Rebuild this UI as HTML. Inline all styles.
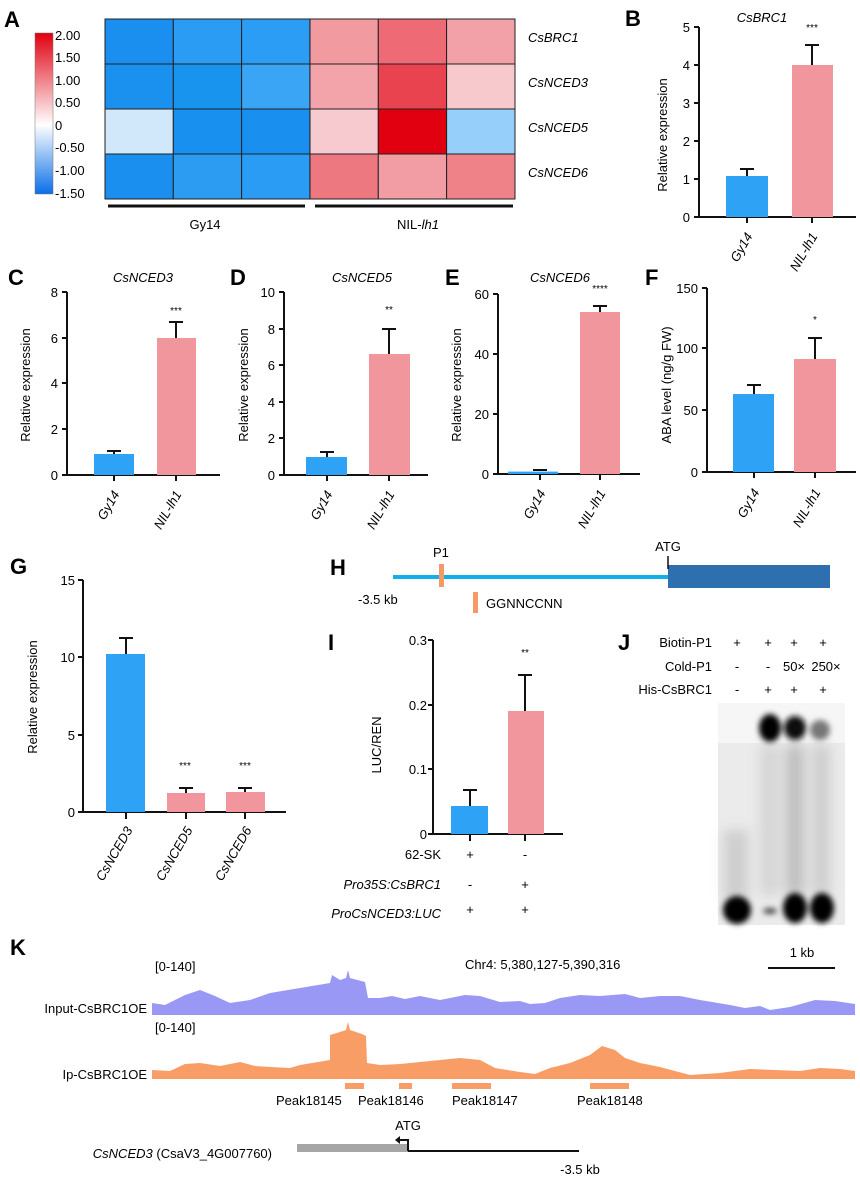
<!DOCTYPE html>
<html><head><meta charset="utf-8"><style>
html,body{margin:0;padding:0;background:#fff}
svg{display:block;font-family:"Liberation Sans",Arial,sans-serif}
.pl{font-weight:bold;font-size:22px}
.t{font-size:13px}
.it{font-style:italic}
</style></head><body>
<svg width="860" height="1179" viewBox="0 0 860 1179" xmlns="http://www.w3.org/2000/svg">
<defs>
<linearGradient id="cb" x1="0" y1="0" x2="0" y2="1">
<stop offset="0" stop-color="#e0000f"/><stop offset="0.57" stop-color="#ffffff"/><stop offset="1" stop-color="#0a6fe8"/>
</linearGradient>
<filter id="bl" x="-50%" y="-50%" width="200%" height="200%"><feGaussianBlur stdDeviation="3"/></filter>
<filter id="bl2" x="-50%" y="-50%" width="200%" height="200%"><feGaussianBlur stdDeviation="6"/></filter>
</defs>

<!-- A heatmap -->
<text class="pl" x="4" y="27">A</text>
<rect x="35" y="33" width="18" height="161" fill="url(#cb)" stroke="#777" stroke-width="0.5"/>
<g class="t" font-size="14">
<text x="55" y="40">2.00</text><text x="55" y="62">1.50</text><text x="55" y="85">1.00</text><text x="55" y="107">0.50</text>
<text x="55" y="130">0</text><text x="55" y="152">-0.50</text><text x="55" y="175">-1.00</text><text x="55" y="198">-1.50</text>
</g>
<g stroke="#222" stroke-width="1">
<rect x="105" y="19" width="68.3" height="45" fill="#1a8fef"/><rect x="173.3" y="19" width="68.3" height="45" fill="#2a9cf3"/><rect x="241.6" y="19" width="68.3" height="45" fill="#2b9df4"/>
<rect x="310" y="19" width="68.3" height="45" fill="#f19aa0"/><rect x="378.3" y="19" width="68.3" height="45" fill="#ee6b76"/><rect x="446.6" y="19" width="68.4" height="45" fill="#f3a1a8"/>
<rect x="105" y="64" width="68.3" height="45" fill="#1a90ef"/><rect x="173.3" y="64" width="68.3" height="45" fill="#1893ee"/><rect x="241.6" y="64" width="68.3" height="45" fill="#3aa5f5"/>
<rect x="310" y="64" width="68.3" height="45" fill="#f2a4aa"/><rect x="378.3" y="64" width="68.3" height="45" fill="#e8434f"/><rect x="446.6" y="64" width="68.4" height="45" fill="#f7c9cc"/>
<rect x="105" y="109" width="68.3" height="45" fill="#d0e8fa"/><rect x="173.3" y="109" width="68.3" height="45" fill="#1890ef"/><rect x="241.6" y="109" width="68.3" height="45" fill="#1990ef"/>
<rect x="310" y="109" width="68.3" height="45" fill="#f7cacf"/><rect x="378.3" y="109" width="68.3" height="45" fill="#e0000f"/><rect x="446.6" y="109" width="68.4" height="45" fill="#95cffa"/>
<rect x="105" y="154" width="68.3" height="45" fill="#1a8fef"/><rect x="173.3" y="154" width="68.3" height="45" fill="#2c9cf3"/><rect x="241.6" y="154" width="68.3" height="45" fill="#2a9cf4"/>
<rect x="310" y="154" width="68.3" height="45" fill="#ee7880"/><rect x="378.3" y="154" width="68.3" height="45" fill="#f29ca3"/><rect x="446.6" y="154" width="68.4" height="45" fill="#ef8189"/>
</g>
<g class="t it" font-size="15">
<text x="528" y="42">CsBRC1</text><text x="528" y="87">CsNCED3</text><text x="528" y="132">CsNCED5</text><text x="528" y="177">CsNCED6</text>
</g>
<line x1="108" y1="206" x2="305" y2="206" stroke="#111" stroke-width="3"/>
<line x1="315" y1="206" x2="513" y2="206" stroke="#111" stroke-width="3"/>
<text class="t" font-size="14" x="205" y="229" text-anchor="middle">Gy14</text>
<text class="t" font-size="14" x="418" y="229" text-anchor="middle">NIL-<tspan font-style="italic">lh1</tspan></text>

<!-- B -->
<text class="pl" x="625" y="26">B</text>
<text class="t it" font-size="14" x="762" y="22" text-anchor="middle">CsBRC1</text>
<text x="812" y="31" font-size="10" text-anchor="middle">***</text>
<g stroke="#111" stroke-width="2" fill="none">
<path d="M699 27V217H856"/>
<path d="M699 27h-5M699 65h-5M699 103h-5M699 141h-5M699 179h-5M699 217h-5M747 217v6M812 217v6"/>
</g>
<rect x="726" y="176" width="42" height="41" fill="#2ea2f5"/>
<rect x="792" y="65" width="41" height="152" fill="#f0969c"/>
<path d="M747 176v-7M740 169h14M812 65v-20M805 45h14" stroke="#111" stroke-width="2"/>
<g class="t" font-size="14" text-anchor="end">
<text x="690" y="32">5</text><text x="690" y="70">4</text><text x="690" y="108">3</text><text x="690" y="146">2</text><text x="690" y="184">1</text><text x="690" y="222">0</text>
</g>
<text class="t" font-size="15" transform="translate(667,135) rotate(-90)" text-anchor="middle">Relative expression</text>
<text class="t it" font-size="14" transform="translate(753,236) rotate(-60)" text-anchor="end">Gy14</text>
<text class="t it" font-size="14" transform="translate(818,236) rotate(-60)" text-anchor="end">NIL-lh1</text>

<!-- C -->
<text class="pl" x="8" y="285">C</text>
<text class="t it" font-size="14" x="143" y="282" text-anchor="middle">CsNCED3</text>
<text x="176" y="314" font-size="10" text-anchor="middle">***</text>
<g stroke="#111" stroke-width="2" fill="none"><path d="M67 292V475H220"/>
<path d="M67 292h-5M67 338h-5M67 383h-5M67 429h-5M67 475h-5M114 475v6M176 475v6"/></g>
<rect x="94" y="454" width="40" height="21" fill="#2ea2f5"/>
<rect x="157" y="338" width="39" height="137" fill="#f0969c"/>
<path d="M114 454v-3M107 451h14M176 338v-16M169 322h14" stroke="#111" stroke-width="2"/>
<g class="t" font-size="14" text-anchor="end"><text x="58" y="297">8</text><text x="58" y="343">6</text><text x="58" y="388">4</text><text x="58" y="434">2</text><text x="58" y="480">0</text></g>
<text class="t" font-size="15" transform="translate(30,385) rotate(-90)" text-anchor="middle">Relative expression</text>
<text class="t it" font-size="14" transform="translate(120,494) rotate(-60)" text-anchor="end">Gy14</text>
<text class="t it" font-size="14" transform="translate(182,494) rotate(-60)" text-anchor="end">NIL-lh1</text>

<!-- D -->
<text class="pl" x="230" y="285">D</text>
<text class="t it" font-size="14" x="362" y="282" text-anchor="middle">CsNCED5</text>
<text x="389" y="313" font-size="10" text-anchor="middle">**</text>
<g stroke="#111" stroke-width="2" fill="none"><path d="M284 292V475H428"/>
<path d="M284 292h-5M284 329h-5M284 365h-5M284 402h-5M284 438h-5M284 475h-5M327 475v6M389 475v6"/></g>
<rect x="306" y="457" width="41" height="18" fill="#2ea2f5"/>
<rect x="369" y="354" width="41" height="121" fill="#f0969c"/>
<path d="M327 457v-5M320 452h14M389 354v-25M382 329h14" stroke="#111" stroke-width="2"/>
<g class="t" font-size="14" text-anchor="end"><text x="275" y="297">10</text><text x="275" y="334">8</text><text x="275" y="370">6</text><text x="275" y="407">4</text><text x="275" y="443">2</text><text x="275" y="480">0</text></g>
<text class="t" font-size="15" transform="translate(248,385) rotate(-90)" text-anchor="middle">Relative expression</text>
<text class="t it" font-size="14" transform="translate(333,494) rotate(-60)" text-anchor="end">Gy14</text>
<text class="t it" font-size="14" transform="translate(395,494) rotate(-60)" text-anchor="end">NIL-lh1</text>

<!-- E -->
<text class="pl" x="445" y="285">E</text>
<text class="t it" font-size="14" x="560" y="282" text-anchor="middle">CsNCED6</text>
<text x="600" y="292" font-size="10" text-anchor="middle">****</text>
<g stroke="#111" stroke-width="2" fill="none"><path d="M498 294V474H640"/>
<path d="M498 294h-5M498 354h-5M498 414h-5M498 474h-5M540 474v6M600 474v6"/></g>
<rect x="508" y="471.6" width="50" height="2.4" fill="#2ea2f5"/>
<rect x="580" y="312" width="40" height="162" fill="#f0969c"/>
<path d="M533 470h14M600 312v-6M593 306h14" stroke="#111" stroke-width="2"/>
<g class="t" font-size="14" text-anchor="end"><text x="489" y="299">60</text><text x="489" y="359">40</text><text x="489" y="419">20</text><text x="489" y="479">0</text></g>
<text class="t" font-size="15" transform="translate(461,385) rotate(-90)" text-anchor="middle">Relative expression</text>
<text class="t it" font-size="14" transform="translate(546,493) rotate(-60)" text-anchor="end">Gy14</text>
<text class="t it" font-size="14" transform="translate(606,493) rotate(-60)" text-anchor="end">NIL-lh1</text>

<!-- F -->
<text class="pl" x="645" y="285">F</text>
<text x="815" y="323" font-size="10" text-anchor="middle">*</text>
<g stroke="#111" stroke-width="2" fill="none"><path d="M707 288V472H856"/>
<path d="M707 288h-5M707 348h-5M707 410h-5M707 472h-5M754 472v6M815 472v6"/></g>
<rect x="733" y="394" width="41" height="78" fill="#2ea2f5"/>
<rect x="794" y="359" width="42" height="113" fill="#f0969c"/>
<path d="M754 394v-9M747 385h14M815 359v-21M808 338h14" stroke="#111" stroke-width="2"/>
<g class="t" font-size="14" text-anchor="end"><text x="698" y="293">150</text><text x="698" y="353">100</text><text x="698" y="415">50</text><text x="698" y="477">0</text></g>
<text class="t" font-size="15" transform="translate(671,385) rotate(-90)" text-anchor="middle">ABA level (ng/g FW)</text>
<text class="t it" font-size="14" transform="translate(760,492) rotate(-60)" text-anchor="end">Gy14</text>
<text class="t it" font-size="14" transform="translate(821,492) rotate(-60)" text-anchor="end">NIL-lh1</text>

<!-- G -->
<text class="pl" x="10" y="574">G</text>
<g stroke="#111" stroke-width="2" fill="none"><path d="M83 580V812H286"/>
<path d="M83 580h-5M83 657h-5M83 735h-5M83 812h-5M126 812v7M186 812v7M245 812v7"/></g>
<rect x="106" y="654" width="39" height="158" fill="#2ea2f5"/>
<rect x="167" y="793" width="38" height="19" fill="#f0969c"/>
<rect x="226" y="792" width="39" height="20" fill="#f0969c"/>
<path d="M126 654v-16M119 638h14M186 793v-5M179 788h14M245 792v-4M238 788h14" stroke="#111" stroke-width="2"/>
<text x="185" y="769" font-size="10" text-anchor="middle">***</text>
<text x="245" y="769" font-size="10" text-anchor="middle">***</text>
<g class="t" font-size="14" text-anchor="end"><text x="75" y="585">15</text><text x="75" y="662">10</text><text x="75" y="740">5</text><text x="75" y="817">0</text></g>
<text class="t" font-size="15" transform="translate(37,697) rotate(-90)" text-anchor="middle">Relative expression</text>
<text class="t it" font-size="14" transform="translate(133,830) rotate(-60)" text-anchor="end">CsNCED3</text>
<text class="t it" font-size="14" transform="translate(193,830) rotate(-60)" text-anchor="end">CsNCED5</text>
<text class="t it" font-size="14" transform="translate(252,830) rotate(-60)" text-anchor="end">CsNCED6</text>

<!-- H -->
<text class="pl" x="330" y="575">H</text>
<line x1="393" y1="577" x2="668" y2="577" stroke="#12b0ea" stroke-width="4"/>
<rect x="668" y="565" width="162" height="23" fill="#2e6fb0"/>
<line x1="668" y1="556" x2="668" y2="569" stroke="#111" stroke-width="1.5"/>
<rect x="439" y="564" width="5" height="23" fill="#f59a66"/>
<text class="t" font-size="14" x="433" y="557">P1</text>
<text class="t" font-size="14" x="668" y="551" text-anchor="middle">ATG</text>
<text class="t" font-size="14" x="358" y="604">-3.5 kb</text>
<rect x="473" y="592" width="5" height="21" fill="#f59a66"/>
<text class="t" font-size="14" x="486" y="608">GGNNCCNN</text>

<!-- I -->
<text class="pl" x="328" y="650">I</text>
<g stroke="#111" stroke-width="2" fill="none"><path d="M433 640V834H563"/>
<path d="M433 640h-5M433 705h-5M433 769h-5M433 834h-5M470 834v7M525 834v7"/></g>
<rect x="451" y="806" width="37" height="28" fill="#2ea2f5"/>
<rect x="508" y="711" width="36" height="123" fill="#f0969c"/>
<path d="M470 806v-16M463 790h14M525 711v-36M518 675h14" stroke="#111" stroke-width="2"/>
<text x="525" y="656" font-size="10" text-anchor="middle">**</text>
<g class="t" font-size="14" text-anchor="end"><text x="427" y="645">0.3</text><text x="427" y="710">0.2</text><text x="427" y="774">0.1</text><text x="427" y="839">0</text></g>
<text class="t" font-size="15" transform="translate(381,745) rotate(-90)" text-anchor="middle">LUC/REN</text>
<g class="t" font-size="14">
<text x="441" y="859" text-anchor="end">62-SK</text><text x="470" y="859" text-anchor="middle">+</text><text x="525" y="859" text-anchor="middle">-</text>
<text x="441" y="889" text-anchor="end" font-style="italic">Pro35S:CsBRC1</text><text x="470" y="889" text-anchor="middle">-</text><text x="525" y="889" text-anchor="middle">+</text>
<text x="441" y="918" text-anchor="end" font-style="italic">ProCsNCED3:LUC</text><text x="470" y="914" text-anchor="middle">+</text><text x="525" y="914" text-anchor="middle">+</text>
</g>

<!-- J -->
<text class="pl" x="618" y="650">J</text>
<g class="t" font-size="14">
<text x="712" y="647" text-anchor="end">Biotin-P1</text>
<text x="712" y="671" text-anchor="end">Cold-P1</text>
<text x="712" y="694" text-anchor="end">His-CsBRC1</text>
<g text-anchor="middle">
<text x="737" y="647">+</text><text x="768" y="647">+</text><text x="794" y="647">+</text><text x="823" y="647">+</text>
<text x="737" y="671">-</text><text x="768" y="671">-</text><text x="794" y="671">50×</text><text x="826" y="671">250×</text>
<text x="737" y="694">-</text><text x="768" y="694">+</text><text x="794" y="694">+</text><text x="823" y="694">+</text>
</g></g>
<rect x="718" y="703" width="127" height="222" fill="#ebebeb"/>
<rect x="718" y="703" width="127" height="40" fill="#f6f6f6"/>
<g filter="url(#bl2)" opacity="0.45"><rect x="786" y="745" width="18" height="150" fill="#888"/><rect x="760" y="745" width="20" height="150" fill="#bbb"/><rect x="812" y="745" width="18" height="150" fill="#aaa"/><rect x="724" y="830" width="24" height="70" fill="#aaa"/></g>
<g filter="url(#bl)">
<ellipse cx="770" cy="728" rx="11" ry="14" fill="#000"/>
<ellipse cx="795" cy="728" rx="11" ry="12" fill="#111"/>
<ellipse cx="820" cy="730" rx="10" ry="10" fill="#777"/>
<ellipse cx="737" cy="910" rx="14" ry="14" fill="#000"/>
<ellipse cx="770" cy="911" rx="7" ry="3" fill="#444"/>
<ellipse cx="795" cy="908" rx="12" ry="15" fill="#000"/>
<ellipse cx="822" cy="908" rx="12" ry="15" fill="#000"/>
</g>

<!-- K -->
<text class="pl" x="10" y="955">K</text>
<text class="t" font-size="14" x="155" y="971">[0-140]</text>
<text class="t" font-size="14" x="465" y="969">Chr4: 5,380,127-5,390,316</text>
<text class="t" font-size="14" x="802" y="957" text-anchor="middle">1 kb</text>
<line x1="768" y1="968" x2="835" y2="968" stroke="#111" stroke-width="2"/>
<polygon fill="#9999f5" points="152,1003 165,1005 185,995 200,990 215,996 230,1003 250,1000 270,993 300,988 330,983 332,975 340,980 346,978 348,970 350,978 365,982 368,998 380,998 392,996 405,999 420,996 440,1000 465,995 480,996 500,1002 520,1001 530,1004 545,1003 560,998 580,995 600,996 625,994 640,998 660,996 680,996 700,1000 730,1005 745,1008 760,1006 770,1010 790,1007 815,1000 835,1001 855,1004 855,1015 152,1015"/>
<text class="t" font-size="14" x="147" y="1013" text-anchor="end">Input-CsBRC1OE</text>
<text class="t" font-size="14" x="155" y="1032">[0-140]</text>
<polygon fill="#f99d66" points="152,1070 170,1071 185,1064 200,1063 220,1066 240,1062 255,1066 270,1067 290,1068 300,1065 318,1062 330,1060 330,1035 340,1032 346,1030 348,1022 350,1030 362,1034 366,1036 367,1063 380,1065 400,1064 420,1062 440,1060 460,1058 480,1060 495,1068 520,1072 535,1074 550,1068 570,1063 590,1055 602,1046 615,1050 625,1058 640,1063 660,1067 690,1075 720,1073 750,1069 775,1070 800,1071 820,1068 840,1069 855,1071 855,1079 152,1079"/>
<text class="t" font-size="14" x="147" y="1079" text-anchor="end">Ip-CsBRC1OE</text>
<g fill="#f99d66"><rect x="345" y="1083" width="19" height="6"/><rect x="399" y="1083" width="13" height="6"/><rect x="452" y="1083" width="39" height="6"/><rect x="590" y="1083" width="39" height="6"/></g>
<g class="t" font-size="14"><text x="276" y="1105">Peak18145</text><text x="358" y="1105">Peak18146</text><text x="452" y="1105">Peak18147</text><text x="577" y="1105">Peak18148</text></g>
<text class="t" font-size="14" x="408" y="1130" text-anchor="middle">ATG</text>
<rect x="297" y="1144" width="111" height="8" fill="#a6a6a6"/>
<line x1="408" y1="1151" x2="579" y2="1151" stroke="#111" stroke-width="2"/>
<path d="M408 1151V1140H398" stroke="#111" stroke-width="2" fill="none"/>
<path d="M395 1140l5-4v8z" fill="#111"/>
<text class="t" font-size="14" x="272" y="1158" text-anchor="end"><tspan font-style="italic">CsNCED3</tspan> (CsaV3_4G007760)</text>
<text class="t" font-size="14" x="580" y="1174" text-anchor="middle">-3.5 kb</text>
</svg>
</body></html>
